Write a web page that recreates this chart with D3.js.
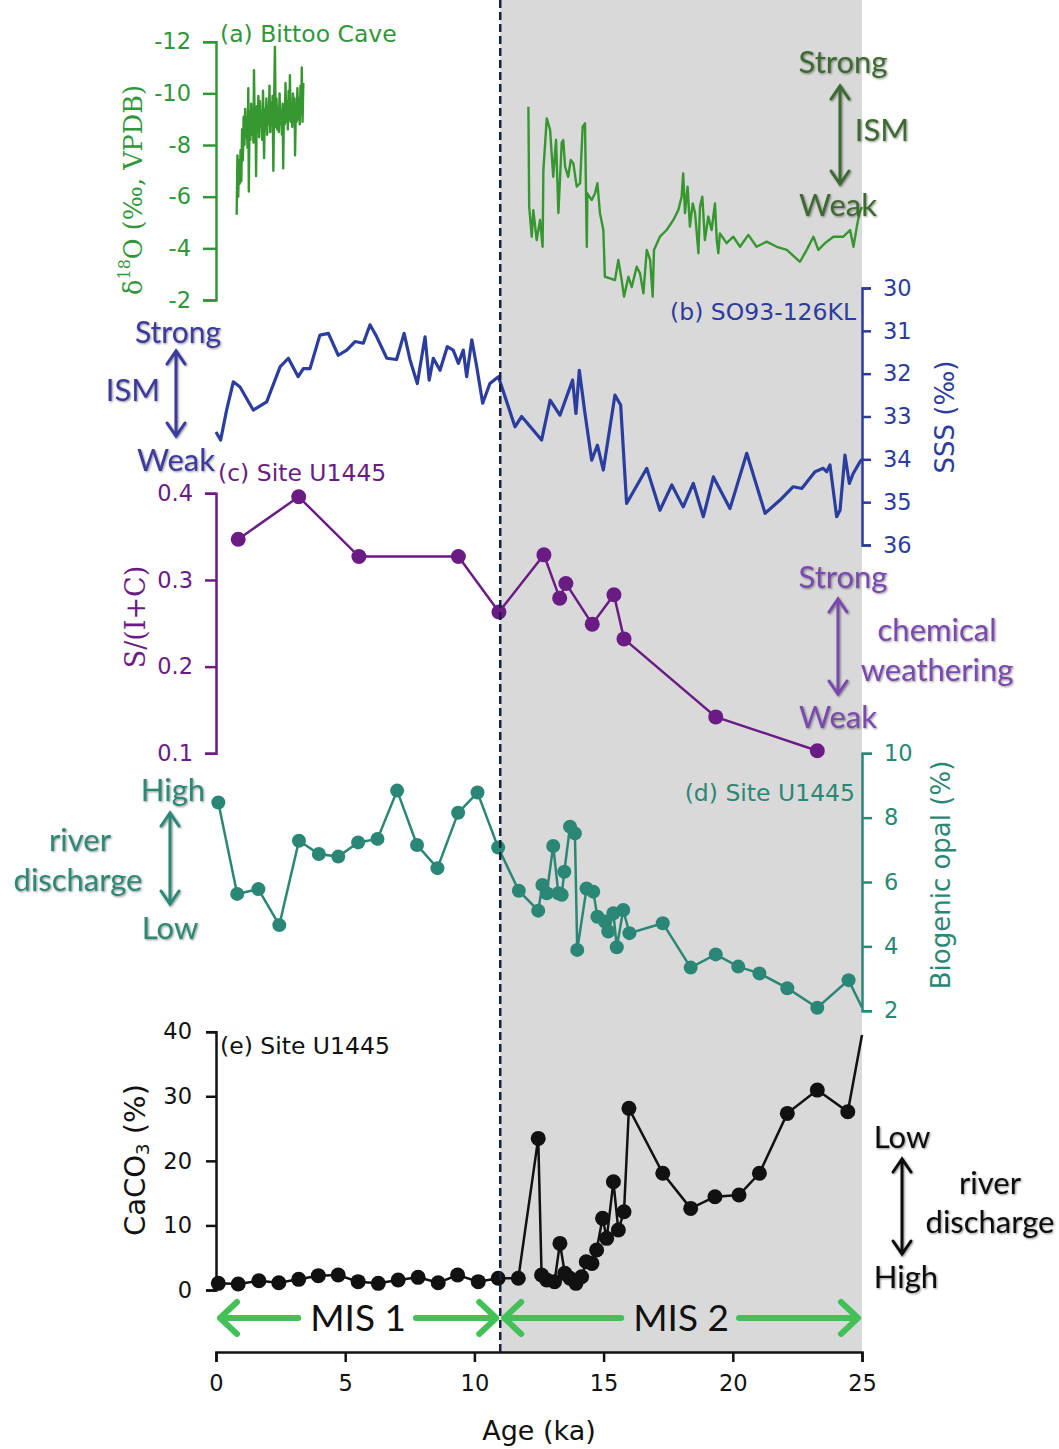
<!DOCTYPE html>
<html>
<head>
<meta charset="utf-8">
<script src="https://cdn.jsdelivr.net/npm/d3@7"></script>
<style>
  html, body { margin: 0; padding: 0; background: #fff; }
  svg { display: block; }
</style>
</head>
<body>
<svg id="chart" width="1059" height="1449"></svg>
<script>
// ---------- shared age axis ----------
const ageTicks = [0, 5, 10, 15, 20, 25];
const misLabels = ["MIS 1", "MIS 2"];
const misStart = [0, 11];
const misEnd = [11, 25];

// ---------- (a) Bittoo Cave speleothem d18O ----------
const bittooHoloAge = [0.80,0.83,0.86,0.89,0.92,0.95,0.98,1.01,1.04,1.07,1.10,1.13,1.16,1.19,1.22,1.25,1.27,1.30,1.33,1.36,
  1.39,1.42,1.45,1.47,1.50,1.53,1.55,1.58,1.61,1.64,1.67,1.70,1.73,1.76,1.79,1.82,1.86,1.89,1.92,1.95,
  1.98,2.01,2.04,2.07,2.10,2.13,2.16,2.19,2.22,2.25,2.28,2.31,2.34,2.37,2.40,2.43,2.46,2.49,2.52,2.55,
  2.58,2.60,2.63,2.66,2.69,2.72,2.75,2.78,2.81,2.84,2.86,2.89,2.92,2.95,2.98,3.01,3.04,3.06,3.09,3.12,
  3.15,3.18,3.21,3.24,3.27,3.30,3.32,3.35,3.38];
const bittooHoloD18O = [-5.3,-7.6,-6.0,-7.4,-6.5,-7.8,-6.6,-8.6,-7.4,-9.1,-8.0,-9.4,-8.3,-9.0,-7.9,-10.2,-6.2,-9.3,-8.2,-9.6,
  -8.4,-9.2,-8.1,-10.9,-8.6,-9.4,-6.8,-9.5,-8.5,-9.9,-8.3,-9.7,-8.7,-9.2,-8.2,-10.1,-7.5,-9.4,-8.6,-9.8,
  -8.4,-9.5,-8.8,-10.3,-8.5,-9.6,-8.9,-9.9,-7.0,-9.7,-11.8,-8.7,-9.8,-8.6,-9.4,-8.5,-10.0,-8.8,-9.3,-8.4,
  -9.6,-7.1,-9.5,-8.8,-10.4,-8.9,-9.7,-8.6,-10.1,-9.0,-10.7,-8.9,-9.6,-8.7,-10.0,-9.1,-9.8,-7.6,-9.5,-8.9,
  -10.2,-9.0,-9.8,-8.8,-10.3,-9.2,-11.0,-8.9,-10.4];
const bittooGlacAge = [12.09,12.12,12.22,12.28,12.41,12.54,12.64,12.67,12.80,12.93,13.05,13.16,13.25,13.38,13.44,13.51,13.63,13.73,13.83,13.96,
  14.09,14.19,14.28,14.35,14.37,14.54,14.67,14.76,14.86,14.99,15.05,15.25,15.44,15.57,15.70,15.79,15.96,16.09,16.28,16.41,
  16.54,16.67,16.80,16.90,16.95,17.18,17.44,17.70,17.89,18.02,18.08,18.15,18.25,18.34,18.45,18.54,18.67,18.73,18.82,18.92,
  19.05,19.18,19.31,19.38,19.44,19.50,19.76,20.02,20.28,20.60,20.92,21.31,21.70,22.09,22.60,22.86,23.12,23.31,23.57,23.89,
  24.28,24.54,24.67,24.80,24.90,25.00];
const bittooGlacD18O = [-9.48,-5.61,-4.45,-5.48,-4.32,-5.10,-4.06,-7.03,-9.03,-8.58,-6.77,-8.20,-5.37,-8.10,-8.19,-7.16,-6.77,-7.42,-7.29,-6.39,
  -6.52,-8.71,-8.84,-4.06,-6.13,-5.87,-6.13,-6.52,-5.36,-4.71,-2.90,-2.84,-2.77,-3.55,-2.77,-2.13,-2.90,-2.50,-3.29,-3.03,
  -2.26,-3.94,-3.55,-2.13,-3.94,-4.45,-4.71,-5.10,-5.48,-6.00,-6.90,-5.36,-6.39,-4.84,-5.74,-5.36,-3.81,-5.61,-6.00,-4.32,
  -5.23,-4.71,-5.74,-4.32,-3.81,-4.58,-4.20,-4.45,-4.06,-4.52,-4.06,-4.26,-4.06,-3.94,-3.48,-3.94,-4.45,-3.94,-4.20,-4.45,
  -4.45,-4.71,-4.06,-4.84,-5.37,-5.60];
const d18OTicks = [-12, -10, -8, -6, -4, -2];

// ---------- (b) SO93-126KL sea surface salinity ----------
const sssAge = [0.00,0.18,0.41,0.67,0.93,1.44,1.96,2.48,2.80,3.18,3.38,3.64,4.02,4.35,4.73,5.06,5.38,5.70,5.96,6.22,
  6.61,6.99,7.28,7.51,7.79,8.09,8.25,8.41,8.67,8.95,9.18,9.38,9.57,9.70,9.90,10.09,10.32,10.60,10.93,11.57,
  11.83,12.60,12.93,13.31,13.80,13.93,14.06,14.28,14.54,14.76,14.99,15.44,15.66,15.89,16.67,17.18,17.64,18.08,18.47,18.86,
  19.25,19.89,20.54,21.25,21.83,22.34,22.67,23.18,23.50,23.63,23.76,24.02,24.15,24.34,24.51,24.66,24.92,25.00];
const sssValue = [33.36,33.55,32.85,32.19,32.31,32.85,32.66,31.84,31.64,32.07,31.88,31.88,31.10,31.06,31.57,31.45,31.25,31.29,30.86,31.14,
  31.64,31.67,31.06,31.68,32.23,31.14,32.15,31.64,31.92,31.37,31.45,31.76,31.45,32.07,31.21,31.84,32.69,32.23,32.07,33.24,
  33.00,33.55,32.62,32.97,32.15,32.93,31.92,32.93,34.02,33.67,34.25,32.50,32.73,35.03,34.21,35.19,34.60,35.11,34.56,35.34,
  34.41,35.15,33.86,35.26,34.95,34.64,34.68,34.29,34.21,34.29,34.13,35.34,35.19,33.90,34.56,34.33,34.06,34.00];
const sssTicks = [30, 31, 32, 33, 34, 35, 36];

// ---------- (c) U1445 smectite / (illite + chlorite) ----------
const smectiteAge = [0.86, 3.20, 5.53, 9.38, 10.95, 12.69, 13.30, 13.54, 14.56, 15.40, 15.79, 19.34, 23.27];
const smectiteRatio = [0.347, 0.396, 0.327, 0.327, 0.263, 0.329, 0.279, 0.296, 0.249, 0.283, 0.232, 0.142, 0.103];
const ratioTicks = [0.1, 0.2, 0.3, 0.4];

// ---------- (d) U1445 biogenic opal ----------
const opalAge = [0.09,0.82,1.64,2.45,3.21,3.98,4.73,5.50,6.25,7.01,7.78,8.57,9.37,10.12,10.92,11.72,12.47,12.63,12.80,13.05,
  13.25,13.38,13.48,13.70,13.89,13.98,14.34,14.60,14.76,15.05,15.18,15.38,15.51,15.76,16.00,17.29,18.37,19.34,20.21,21.03,
  22.11,23.27,24.48,25.00];
const opalValue = [8.47,5.63,5.78,4.66,7.28,6.87,6.79,7.23,7.34,8.84,7.15,6.43,8.15,8.78,7.07,5.73,5.11,5.91,5.65,7.12,
  5.65,5.60,6.32,7.72,7.51,3.89,5.80,5.70,4.92,4.77,4.46,5.03,3.97,5.13,4.41,4.72,3.34,3.75,3.37,3.16,
  2.70,2.09,2.95,2.10];
const opalTicks = [2, 4, 6, 8, 10];

// ---------- (e) U1445 CaCO3 ----------
const caco3Age = [0.09,0.86,1.66,2.43,3.20,3.96,4.73,5.50,6.28,7.05,7.82,8.60,9.35,10.15,10.92,11.70,12.47,12.60,12.80,13.10,
  13.31,13.50,13.70,13.93,14.15,14.33,14.55,14.73,14.96,15.12,15.38,15.57,15.79,15.98,17.29,18.37,19.31,20.24,21.03,22.11,
  23.27,24.45,25.00];
const caco3Value = [1.03,0.93,1.44,1.13,1.65,2.22,2.32,1.29,1.03,1.55,1.96,1.13,2.32,1.29,1.81,1.81,23.48,2.32,1.55,1.29,
  7.22,2.58,1.81,1.03,2.06,4.38,4.12,6.19,11.10,8.00,16.77,9.29,12.12,28.13,18.07,12.64,14.45,14.71,18.07,27.35,
  30.96,27.60,39.50];
const caco3Ticks = [0, 10, 20, 30, 40];

// ---------- drawing ----------
const svg = d3.select("#chart");
const SANS = '"DejaVu Sans", sans-serif';
const SERIF = '"DejaVu Serif", serif';
const NOTE = 'Lato, "Open Sans", sans-serif';
const TICK = 22.5;

const x = d3.scaleLinear().domain([0, 25]).range([216, 862]);
const axisY = 1352;

const defs = svg.append("defs");
const glow = defs.append("filter").attr("id", "soft").attr("x", "-20%").attr("y", "-40%").attr("width", "140%").attr("height", "180%");
glow.append("feGaussianBlur").attr("in", "SourceAlpha").attr("stdDeviation", 1.3).attr("result", "b");
glow.append("feOffset").attr("in", "b").attr("dx", 1).attr("dy", 1).attr("result", "o");
glow.append("feComponentTransfer").attr("in", "o").attr("result", "s")
  .append("feFuncA").attr("type", "linear").attr("slope", 0.45);
const merge = glow.append("feMerge");
merge.append("feMergeNode").attr("in", "s");
merge.append("feMergeNode").attr("in", "SourceGraphic");

// glacial shading (MIS 2)
svg.append("rect")
  .attr("x", x(misStart[1])).attr("y", 0)
  .attr("width", x(misEnd[1]) - x(misStart[1])).attr("height", axisY)
  .attr("fill", "#d9d9d9");

function pairs(a, v) { return a.map((d, i) => ({ age: d, v: v[i] })); }

function styleAxis(g, color, size) {
  g.attr("font-family", SANS).attr("font-size", size);
  g.select(".domain").attr("stroke", color).attr("stroke-width", 2.5);
  g.selectAll(".tick line").attr("stroke", color).attr("stroke-width", 2.5);
  g.selectAll(".tick text").attr("fill", color);
}

function yTitle(cx, cy, color, font, size, parts) {
  const t = svg.append("text")
    .attr("transform", `translate(${cx},${cy}) rotate(-90)`)
    .attr("text-anchor", "middle").attr("dominant-baseline", "central")
    .attr("font-family", font).attr("font-size", size).attr("fill", color);
  parts.forEach(p => {
    const s = t.append("tspan").text(p.t);
    if (p.dy) s.attr("dy", p.dy);
    if (p.size) s.attr("font-size", p.size);
  });
}

function label(tx, ty, anchor, color, text) {
  svg.append("text").attr("x", tx).attr("y", ty).attr("text-anchor", anchor)
    .attr("font-family", SANS).attr("font-size", 23.5).attr("fill", color).text(text);
}

function note(tx, ty, color, text, size) {
  svg.append("text").attr("x", tx).attr("y", ty).attr("text-anchor", "middle")
    .attr("font-family", NOTE).attr("font-size", size || 31).attr("fill", color)
    .attr("filter", "url(#soft)").text(text);
}

function doubleArrow(ax, y1, y2, color) {
  const p = d3.path();
  p.moveTo(ax, y1); p.lineTo(ax, y2);
  p.moveTo(ax - 9, y1 + 13); p.lineTo(ax, y1); p.lineTo(ax + 9, y1 + 13);
  p.moveTo(ax - 9, y2 - 13); p.lineTo(ax, y2); p.lineTo(ax + 9, y2 - 13);
  svg.append("path").attr("d", p.toString()).attr("fill", "none")
    .attr("stroke", color).attr("stroke-width", 3).attr("stroke-linecap", "round")
    .attr("filter", "url(#soft)");
}

// ----- (a) -----
const cA = "#31963b";
const yA = d3.scaleLinear().domain([-2, -12]).range([300, 41.7]);
const gA = svg.append("g").attr("transform", `translate(${x(0)},0)`)
  .call(d3.axisLeft(yA).tickValues(d18OTicks).tickSize(13).tickSizeOuter(13).tickPadding(12).tickFormat(d => String(d)));
styleAxis(gA, cA, TICK);
const lineA = d3.line().x(d => x(d.age)).y(d => yA(d.v));
[pairs(bittooHoloAge, bittooHoloD18O), pairs(bittooGlacAge, bittooGlacD18O)].forEach(seg => {
  svg.append("path").datum(seg).attr("d", lineA).attr("fill", "none")
    .attr("stroke", "#36962f").attr("stroke-width", 2.4).attr("stroke-linejoin", "round");
});
yTitle(133, 190, cA, SERIF, 25.5, [{ t: "δ" }, { t: "18", dy: -9, size: 16 }, { t: "O (‰, VPDB)", dy: 9 }]);
label(220, 42, "start", cA, "(a) Bittoo Cave");
note(843, 73, "#3e6b30", "Strong");
doubleArrow(840, 86, 184, "#3e6b30");
note(882, 141, "#3e6b30", "ISM");
note(838, 216, "#3e6b30", "Weak");

// ----- (b) -----
const cB = "#2c3c9c";
const yB = d3.scaleLinear().domain([30, 36]).range([288, 545]);
const gB = svg.append("g").attr("transform", `translate(${x(25)},0)`)
  .call(d3.axisRight(yB).tickValues(sssTicks).tickSize(9).tickSizeOuter(9).tickPadding(12).tickFormat(d => String(d)));
styleAxis(gB, cB, TICK);
svg.append("path").datum(pairs(sssAge, sssValue))
  .attr("d", d3.line().x(d => x(d.age)).y(d => yB(d.v)))
  .attr("fill", "none").attr("stroke", "#2b3d9e").attr("stroke-width", 3.2).attr("stroke-linejoin", "round");
yTitle(945, 417, cB, SANS, 26, [{ t: "SSS (‰)" }]);
label(856, 320, "end", cB, "(b) SO93-126KL");
note(178, 343, "#3b3a9c", "Strong", 30);
doubleArrow(176, 351, 436, "#3b3a9c");
note(133, 401, "#3b3a9c", "ISM");
note(176, 471, "#3b3a9c", "Weak");

// ----- (c) -----
const cC = "#6a1c84";
const yC = d3.scaleLinear().domain([0.1, 0.4]).range([753.3, 493.3]);
const gC = svg.append("g").attr("transform", `translate(${x(0)},0)`)
  .call(d3.axisLeft(yC).tickValues(ratioTicks).tickSize(11).tickSizeOuter(11).tickPadding(12).tickFormat(d3.format(".1f")));
styleAxis(gC, cC, TICK);
const dataC = pairs(smectiteAge, smectiteRatio);
svg.append("path").datum(dataC)
  .attr("d", d3.line().x(d => x(d.age)).y(d => yC(d.v)))
  .attr("fill", "none").attr("stroke", cC).attr("stroke-width", 2.5);
svg.append("g").selectAll("circle").data(dataC).join("circle")
  .attr("cx", d => x(d.age)).attr("cy", d => yC(d.v)).attr("r", 7.5).attr("fill", cC);
yTitle(135, 617, cC, SERIF, 27, [{ t: "S/(I+C)" }]);
label(218, 481, "start", cC, "(c) Site U1445");
note(843, 588, "#7a48ad", "Strong");
doubleArrow(838, 599, 694, "#7a48ad");
note(937, 641, "#7a48ad", "chemical");
note(937, 681, "#7a48ad", "weathering");
note(838, 728, "#7a48ad", "Weak");

// ----- (d) -----
const cD = "#2b8775";
const yD = d3.scaleLinear().domain([2, 10]).range([1010.7, 753.3]);
const gD = svg.append("g").attr("transform", `translate(${x(25)},0)`)
  .call(d3.axisRight(yD).tickValues(opalTicks).tickSize(10).tickSizeOuter(10).tickPadding(12).tickFormat(d => String(d)));
styleAxis(gD, cD, TICK);
const dataD = pairs(opalAge, opalValue);
svg.append("path").datum(dataD)
  .attr("d", d3.line().x(d => x(d.age)).y(d => yD(d.v)))
  .attr("fill", "none").attr("stroke", cD).attr("stroke-width", 2.5);
svg.append("g").selectAll("circle").data(dataD.filter(d => d.age < 25)).join("circle")
  .attr("cx", d => x(d.age)).attr("cy", d => yD(d.v)).attr("r", 7).attr("fill", cD);
yTitle(941, 875, cD, SANS, 26, [{ t: "Biogenic opal (%)" }]);
label(855, 801, "end", cD, "(d) Site U1445");
note(173, 801, "#2e8876", "High");
doubleArrow(170, 813, 904, "#2e8876");
note(80, 851, "#2e8876", "river");
note(78, 891, "#2e8876", "discharge");
note(170, 939, "#2e8876", "Low");

// ----- (e) -----
const cE = "#111111";
const yE = d3.scaleLinear().domain([0, 40]).range([1290, 1031.7]);
const gE = svg.append("g").attr("transform", `translate(${x(0)},0)`)
  .call(d3.axisLeft(yE).tickValues(caco3Ticks).tickSize(10).tickSizeOuter(10).tickPadding(14).tickFormat(d => String(d)));
styleAxis(gE, cE, TICK);
const dataE = pairs(caco3Age, caco3Value);
svg.append("path").datum(dataE)
  .attr("d", d3.line().x(d => x(d.age)).y(d => yE(d.v)))
  .attr("fill", "none").attr("stroke", cE).attr("stroke-width", 2.5);
svg.append("g").selectAll("circle").data(dataE.filter(d => d.age < 25)).join("circle")
  .attr("cx", d => x(d.age)).attr("cy", d => yE(d.v)).attr("r", 7.5).attr("fill", cE);
yTitle(135, 1160, cE, SANS, 29, [{ t: "CaCO" }, { t: "3", dy: 7, size: 18 }, { t: " (%)", dy: -7 }]);
label(220, 1054, "start", cE, "(e) Site U1445");
note(902, 1148, cE, "Low");
doubleArrow(902, 1159, 1254, cE);
note(990, 1194, cE, "river");
note(990, 1233, cE, "discharge");
note(906, 1288, cE, "High");

// ----- age axis -----
const gX = svg.append("g").attr("transform", `translate(0,${axisY})`)
  .call(d3.axisBottom(x).tickValues(ageTicks).tickSize(10).tickSizeOuter(10).tickPadding(13).tickFormat(d => String(d)));
styleAxis(gX, cE, TICK);
svg.append("text").attr("x", x(12.5)).attr("y", 1440).attr("text-anchor", "middle")
  .attr("font-family", SANS).attr("font-size", 27).attr("fill", cE).text("Age (ka)");

// ----- marine isotope stage arrows -----
const misY = 1318;
const misColor = "#44c058";
misLabels.forEach((lab, i) => {
  const cx = x((misStart[i] + misEnd[i]) / 2);
  const t = svg.append("text").attr("x", cx).attr("y", misY + 13).attr("text-anchor", "middle")
    .attr("font-family", NOTE).attr("font-size", 37).attr("fill", cE).text(lab);
  const half = t.node().getComputedTextLength() / 2;
  const left = x(misStart[i]) + 4, right = x(misEnd[i]) - 4;
  const p = d3.path();
  p.moveTo(cx - half - 12, misY); p.lineTo(left, misY);
  p.moveTo(left + 17, misY - 16); p.lineTo(left, misY); p.lineTo(left + 17, misY + 16);
  p.moveTo(cx + half + 10, misY); p.lineTo(right, misY);
  p.moveTo(right - 17, misY - 16); p.lineTo(right, misY); p.lineTo(right - 17, misY + 16);
  svg.append("path").attr("d", p.toString()).attr("fill", "none")
    .attr("stroke", misColor).attr("stroke-width", 6).attr("stroke-linecap", "round").attr("stroke-linejoin", "round");
});

// Holocene / glacial boundary
svg.append("line")
  .attr("x1", x(misStart[1])).attr("x2", x(misStart[1]))
  .attr("y1", 0).attr("y2", axisY)
  .attr("stroke", "#15213f").attr("stroke-width", 2.5).attr("stroke-dasharray", "8,4");
</script>
</body>
</html>
